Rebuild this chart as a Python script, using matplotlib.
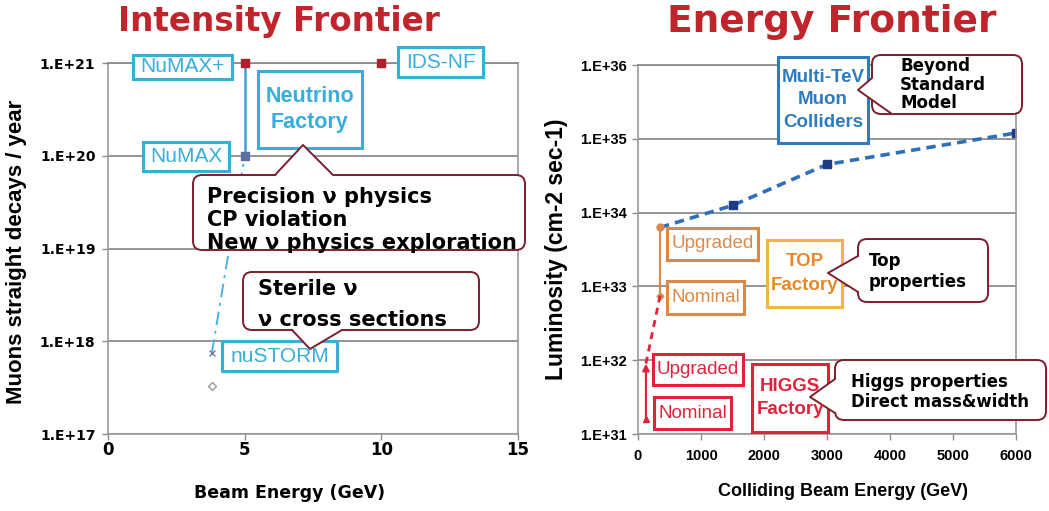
import numpy as np
import matplotlib
matplotlib.use("Agg")
import matplotlib.pyplot as plt
import matplotlib.transforms as mtransforms
from matplotlib.patches import FancyBboxPatch, Polygon, Rectangle
from matplotlib.lines import Line2D
from matplotlib.ticker import FuncFormatter, NullLocator

# ---- Intensity frontier (left panel) ----
nf_energy = [5, 10]              # NuMAX+ , IDS-NF
nf_decays = [1e21, 1e21]
numax_energy = [5, 5]            # NuMAX -> NuMAX+
numax_decays = [1e20, 1e21]
stage_energy = [3.8, 5]          # nuSTORM -> NuMAX
stage_decays = [7.5e17, 1e20]
nustorm_energy = [3.8]
nustorm_decays = [3.3e17]
left_xticks = [0, 5, 10, 15]
left_yticks = [1e17, 1e18, 1e19, 1e20, 1e21]

# ---- Energy frontier (right panel) ----
mc_energy = [350, 1500, 3000, 6000]
mc_lumi = [6.3e33, 1.25e34, 4.5e34, 1.2e35]
top_energy = [350, 350]          # nominal, upgraded
top_lumi = [7.5e32, 6.3e33]
higgs_energy = [126, 126]        # nominal, upgraded
higgs_lumi = [1.6e31, 9e31]
right_xticks = [0, 1000, 2000, 3000, 4000, 5000, 6000]
right_yticks = [1e31, 1e32, 1e33, 1e34, 1e35, 1e36]

CYAN = '#38AEDA'
BLUEBOX = '#2F7BC0'
ORANGE = '#D98A4A'
TOPEDGE = '#F2B443'
TOPTEXT = '#E38A2E'
RED = '#E0233A'
CALL = '#7D1E2C'
TITLE = '#BF252B'
GRID = '#8c8c8c'

plt.rcParams['font.family'] = ['DejaVu Sans']

W, H = 1049, 511
fig = plt.figure(figsize=(W / 100, H / 100), dpi=100)
# pixel coordinates, origin top-left
PX = mtransforms.Affine2D().scale(1 / W, -1 / H).translate(0, 1) + fig.transFigure

axL = fig.add_axes([108 / W, (H - 434) / H, 410 / W, 371 / H])
axR = fig.add_axes([638 / W, (H - 434) / H, 378 / W, 369 / H])


def style(ax, fam, ysize, xsize, pad_y, pad_x):
    ax.set_yscale('log')
    ax.yaxis.set_minor_locator(NullLocator())
    ax.grid(axis='y', color=GRID, lw=1.3)
    ax.set_axisbelow(True)
    for s in ['left', 'bottom', 'right']:
        ax.spines[s].set_color('#9a9a9a')
        ax.spines[s].set_linewidth(1.2)
    ax.spines['top'].set_color(GRID)
    ax.spines['top'].set_linewidth(1.3)
    ax.tick_params(direction='out', length=4, width=1, color=GRID)
    ax.tick_params(axis='y', pad=pad_y)
    ax.tick_params(axis='x', pad=pad_x)
    ax.yaxis.set_major_formatter(FuncFormatter(lambda v, p: '1.E+%d' % round(np.log10(v))))
    for lab in ax.get_yticklabels():
        lab.set_family(fam)
        lab.set_fontsize(ysize)
        lab.set_fontweight('bold')
    for lab in ax.get_xticklabels():
        lab.set_family(fam)
        lab.set_fontsize(xsize)
        lab.set_fontweight('bold')


# left panel data
axL.plot(stage_energy, stage_decays, color='#4AB3DE', lw=1.4, ls=(0, (7, 3, 1.5, 3)))
axL.plot(stage_energy[:1], stage_decays[:1], 'x', color='#6c7fa8', ms=4, mew=1)
axL.plot(nustorm_energy, nustorm_decays, 'D', mfc='white', mec='#9a9a9a', ms=4, mew=1)
axL.plot(numax_energy, numax_decays, color='#3E9ED6', lw=1.8)
axL.plot(numax_energy[:1], numax_decays[:1], 's', color='#5C6F9C', ms=6)
axL.plot(nf_energy, nf_decays, 's', color='#B0202A', ms=6, clip_on=False, zorder=4)
axL.set_xlim(0, 15)
axL.set_ylim(1e17, 1e21)
axL.set_xticks(left_xticks)
axL.set_yticks(left_yticks)
style(axL, 'DejaVu Sans', 10, 12, 5, 1)

# right panel data
axR.plot(mc_energy, mc_lumi, color='#2F6FB8', lw=2.6, ls=(0, (2.6, 1.7)))
axR.plot(mc_energy[1:], mc_lumi[1:], 's', color='#1F3A85', ms=6)
axR.plot(top_energy, top_lumi, color=ORANGE, lw=1.5)
axR.plot(top_energy[1:], top_lumi[1:], 'o', color=ORANGE, ms=5)
axR.plot(top_energy[:1], top_lumi[:1], 'D', color=ORANGE, ms=3.5)
axR.plot([higgs_energy[1], top_energy[0]], [higgs_lumi[1], top_lumi[0]],
         color=RED, lw=2, ls=(0, (2.5, 2)))
axR.annotate('', xy=(higgs_energy[1], higgs_lumi[1]), xytext=(higgs_energy[0], higgs_lumi[0]),
             arrowprops=dict(arrowstyle='-|>', color=RED, lw=1.5, mutation_scale=10,
                             shrinkA=0, shrinkB=0))
axR.plot(higgs_energy[:1], higgs_lumi[:1], '^', color=RED, ms=5)
axR.set_xlim(0, 6000)
axR.set_ylim(1e31, 1e36)
axR.set_xticks(right_xticks)
axR.set_yticks(right_yticks)
style(axR, 'Liberation Sans', 10.5, 10.5, 4, 7)


def label_box(x0, y0, x1, y1, text, color, edge, size, weight='normal',
              fam='Liberation Sans', lw=2.2, spacing=1.1):
    fig.add_artist(Rectangle((x0, y0), x1 - x0, y1 - y0, transform=PX,
                             fc='white', ec=edge, lw=lw, zorder=5))
    fig.text((x0 + x1) / 2, (y0 + y1) / 2, text, transform=PX, ha='center',
             va='center', color=color, fontsize=size, fontweight=weight,
             family=fam, linespacing=spacing, zorder=8)


def callout(x0, y0, x1, y1, tip, base, lines, tx, tys, size):
    fig.add_artist(FancyBboxPatch((x0, y0), x1 - x0, y1 - y0,
                                  boxstyle='round,pad=0,rounding_size=9',
                                  transform=PX, fc='white', ec=CALL, lw=1.4, zorder=5))
    cx, cy = (x0 + x1) / 2, (y0 + y1) / 2
    inner = []
    for bx, by in base[::-1]:
        d = np.hypot(cx - bx, cy - by)
        inner.append((bx + 4 * (cx - bx) / d, by + 4 * (cy - by) / d))
    fig.add_artist(Polygon([base[0], tip, base[1]] + inner, closed=True,
                           transform=PX, fc='white', ec='none', zorder=6))
    fig.add_artist(Line2D([base[0][0], tip[0], base[1][0]], [base[0][1], tip[1], base[1][1]],
                          transform=PX, color=CALL, lw=1.4, zorder=7))
    for t, ty in zip(lines, tys):
        fig.text(tx, ty, t, transform=PX, ha='left', va='center', fontsize=size,
                 fontweight='bold', family='DejaVu Sans', color='black', zorder=8)


# left panel boxes
label_box(133, 55, 232, 79, 'NuMAX+', CYAN, CYAN, 15)
label_box(398, 47, 483, 77, 'IDS-NF', CYAN, CYAN, 15)
label_box(258, 71, 362, 148, 'Neutrino\nFactory', CYAN, CYAN, 15.5, 'bold', spacing=1.3)
label_box(143, 142, 229, 171, 'NuMAX', CYAN, CYAN, 15)
label_box(222, 341, 337, 371, 'nuSTORM', CYAN, CYAN, 15)

callout(193, 175, 525, 250, (303, 145), [(275, 175), (333, 175)],
        ['Precision ν physics', 'CP violation', 'New ν physics exploration'],
        207, [197, 220, 243], 15)
callout(243, 272, 479, 330, (310, 349), [(292, 330), (342, 330)],
        ['Sterile ν', 'ν cross sections'], 258, [289, 320], 15)

# right panel boxes
label_box(778, 57, 868, 143, 'Multi-TeV\nMuon\nColliders', BLUEBOX, BLUEBOX, 13.5, 'bold',
          spacing=1.4)
label_box(667, 228, 758, 260, 'Upgraded', ORANGE, ORANGE, 13.5)
label_box(667, 281, 744, 314, 'Nominal', ORANGE, ORANGE, 13.5)
label_box(767, 240, 842, 307, 'TOP\nFactory', TOPTEXT, TOPEDGE, 13.5, 'bold', spacing=1.55)
label_box(653, 354, 743, 385, 'Upgraded', RED, RED, 13.5)
label_box(654, 397, 731, 429, 'Nominal', RED, RED, 13.5)
label_box(752, 364, 828, 432, 'HIGGS\nFactory', RED, RED, 13.5, 'bold', spacing=1.45)

callout(872, 55, 1022, 114, (858, 90), [(872, 78), (892, 114)],
        ['Beyond', 'Standard', 'Model'], 900, [66, 85, 103], 12)
callout(858, 239, 988, 302, (828, 273), [(858, 256), (858, 292)],
        ['Top', 'properties'], 869, [261, 282], 12)
callout(835, 360, 1046, 420, (810, 397), [(835, 379), (835, 413)],
        ['Higgs properties', 'Direct mass&width'], 851, [382, 402], 12)

# titles and axis labels
fig.text(279, 22, 'Intensity Frontier', transform=PX, ha='center', va='center',
         fontsize=23.5, fontweight='bold', color=TITLE)
fig.text(832, 22, 'Energy Frontier', transform=PX, ha='center', va='center',
         fontsize=27, fontweight='bold', color=TITLE)
fig.text(17, 252, 'Muons straight decays / year', transform=PX, ha='center', va='center',
         rotation=90, fontsize=16, fontweight='bold', family='Liberation Sans')
fig.text(290, 493, 'Beam Energy (GeV)', transform=PX, ha='center', va='center',
         fontsize=12.5, fontweight='bold')
fig.text(557, 249, 'Luminosity (cm-2 sec-1)', transform=PX, ha='center', va='center',
         rotation=90, fontsize=16.5, fontweight='bold', family='Liberation Sans')
fig.text(843, 492, 'Colliding Beam Energy (GeV)', transform=PX, ha='center', va='center',
         fontsize=13, fontweight='bold', family='Liberation Sans')

fig.savefig('out.png', dpi=100, facecolor='white')
